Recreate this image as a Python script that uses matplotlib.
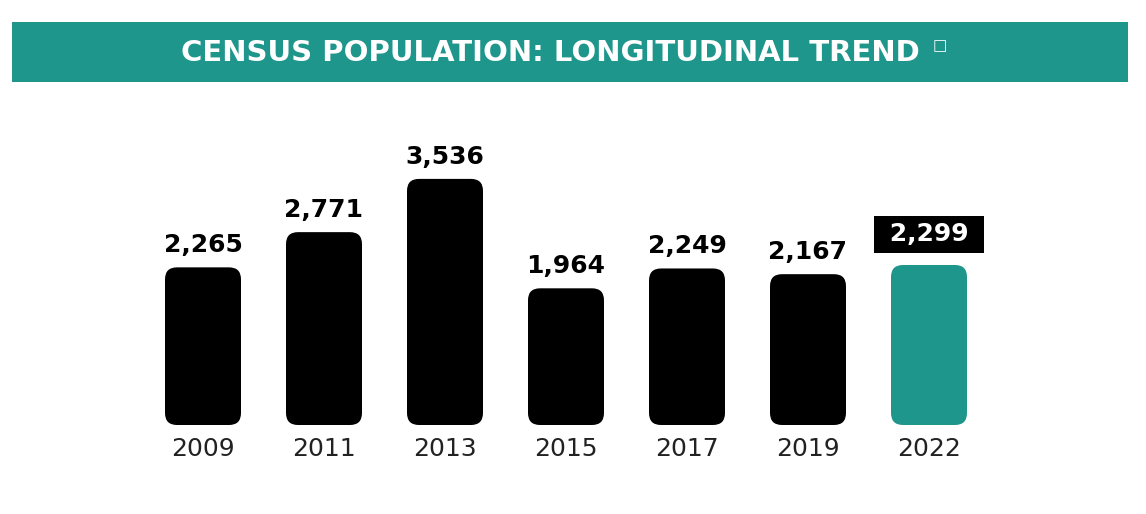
import matplotlib
matplotlib.use("Agg")
import matplotlib.pyplot as plt
from matplotlib.patches import FancyBboxPatch, Rectangle

# datos del gráfico
years = ["2009", "2011", "2013", "2015", "2017", "2019", "2022"]
population = [2265, 2771, 3536, 1964, 2249, 2167, 2299]
value_labels = ["2,265", "2,771", "3,536", "1,964", "2,249", "2,167", "2,299"]

TEAL = "#1f968b"
W, H = 1146, 514

fig = plt.figure(figsize=(W / 100, H / 100), dpi=100)
fig.patch.set_facecolor("white")

# barra del título
fig.add_artist(Rectangle((12 / W, 1 - 82 / H), 1116 / W, 60 / H,
                         transform=fig.transFigure, facecolor=TEAL, edgecolor="none"))
fig.text(550 / W, 1 - 53 / H, "CENSUS POPULATION: LONGITUDINAL TREND",
         ha="center", va="center", color="white", fontsize=21, fontweight="bold",
         family="DejaVu Sans")
fig.text(940 / W, 1 - 46 / H, "□", ha="center", va="center", color="white", fontsize=11)

# ejes: 121 px entre barras, 0 en y=425 px
ax = fig.add_axes([0, (H - 425) / H, 1, 325 / H])
ax.set_xlim(-203 / 121, (W - 203) / 121)
ymax = 325 / 0.0696
ax.set_ylim(0, ymax)
ax.axis("off")

bar_w = 76 / 121
r = 12 / 121
aspect = (12 * ymax / 325) / r

for i, (yr, val, lab) in enumerate(zip(years, population, value_labels)):
    last = i == len(years) - 1
    color = TEAL if last else "black"
    ax.add_patch(FancyBboxPatch((i - bar_w / 2, 0), bar_w, val,
                                boxstyle=f"round,pad=0,rounding_size={r}",
                                mutation_aspect=aspect, facecolor=color, edgecolor="none"))
    ax.annotate(yr, (i, 0), xytext=(0, -17), textcoords="offset points",
                ha="center", va="center", fontsize=18, color="#222222")
    if last:
        ax.annotate(" " + lab + " ", (i, val), xytext=(0, 22), textcoords="offset points",
                    ha="center", va="center", fontsize=18, fontweight="bold", color="white",
                    bbox=dict(boxstyle="square,pad=0.27", facecolor="black", edgecolor="none"))
    else:
        ax.annotate(lab, (i, val), xytext=(0, 16), textcoords="offset points",
                    ha="center", va="center", fontsize=18, fontweight="bold", color="black")

fig.savefig("out.png", dpi=100)
